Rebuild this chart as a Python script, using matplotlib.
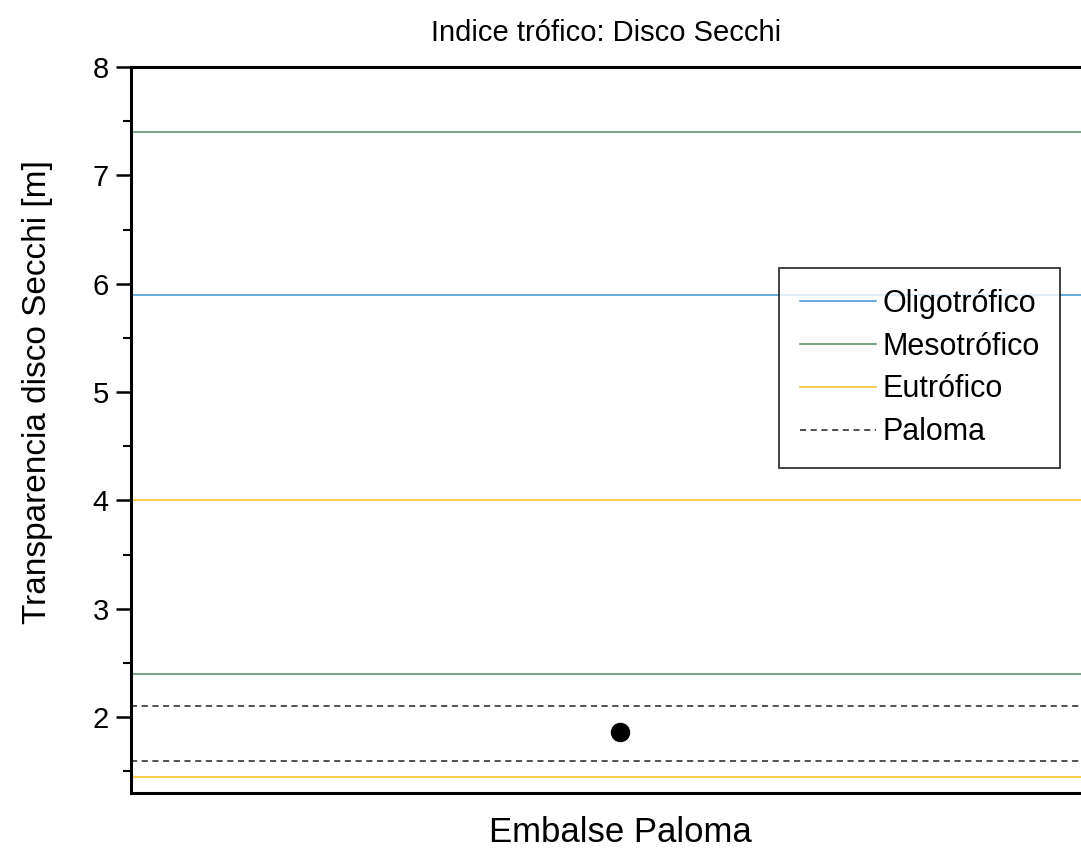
import matplotlib.pyplot as plt

plt.rcParams['font.family'] = ['Liberation Sans', 'DejaVu Sans']

# trophic thresholds for Secchi depth [m]
oligo_levels = [5.9]
meso_levels = [7.4, 2.4]
eutro_levels = [4.0, 1.45]
paloma_range = [2.1, 1.6]
paloma_mean = 1.86

fig = plt.figure(figsize=(10.81, 8.52), dpi=100)
ax = fig.add_axes([0.1212, 0.0692, 0.905, 0.8521])

for i, y in enumerate(oligo_levels):
    ax.axhline(y, color='#3a94cf', lw=1.1, label='Oligotrófico' if i == 0 else None)
for i, y in enumerate(meso_levels):
    ax.axhline(y, color='#528c62', lw=1.1, label='Mesotrófico' if i == 0 else None)
for i, y in enumerate(eutro_levels):
    ax.axhline(y, color='#f2c21b', lw=1.1, label='Eutrófico' if i == 0 else None)
for i, y in enumerate(paloma_range):
    ax.axhline(y, color='#222222', lw=1.1, ls=(0, (4, 3)), label='Paloma' if i == 0 else None)

ax.plot([1], [paloma_mean], 'o', color='black', ms=13)

ax.set_xlim(0, 2)
ax.set_ylim(1.3, 8)
ax.set_xticks([])
ax.set_yticks([2, 3, 4, 5, 6, 7, 8])
ax.set_yticks([1.5, 2.5, 3.5, 4.5, 5.5, 6.5, 7.5], minor=True)
ax.tick_params(axis='y', which='major', direction='out', length=11, width=1.8,
               labelsize=21, pad=5)
ax.tick_params(axis='y', which='minor', direction='out', length=6, width=1.5)
for s in ax.spines.values():
    s.set_linewidth(2.2)

fig.text(620 / 1081, 1 - 832 / 852, 'Embalse Paloma', fontsize=25, ha='center', va='center')
fig.text(38 / 1081, 1 - 392 / 852, 'Transparencia disco Secchi [m]', fontsize=24,
         ha='center', va='center', rotation=90)
fig.text(606 / 1081, 1 - 33 / 852, 'Indice trófico: Disco Secchi', fontsize=21,
         ha='center', va='center')

leg = ax.legend(loc='upper left', bbox_to_anchor=(779 / 1081, 1 - 268 / 852),
                bbox_transform=fig.transFigure, fontsize=22, frameon=True, fancybox=False,
                handlelength=2.5, handletextpad=0.2, labelspacing=0.42, borderpad=0.68,
                borderaxespad=0)
leg.get_frame().set_edgecolor('black')
leg.get_frame().set_linewidth(1.3)

fig.savefig('out.png', dpi=100)
